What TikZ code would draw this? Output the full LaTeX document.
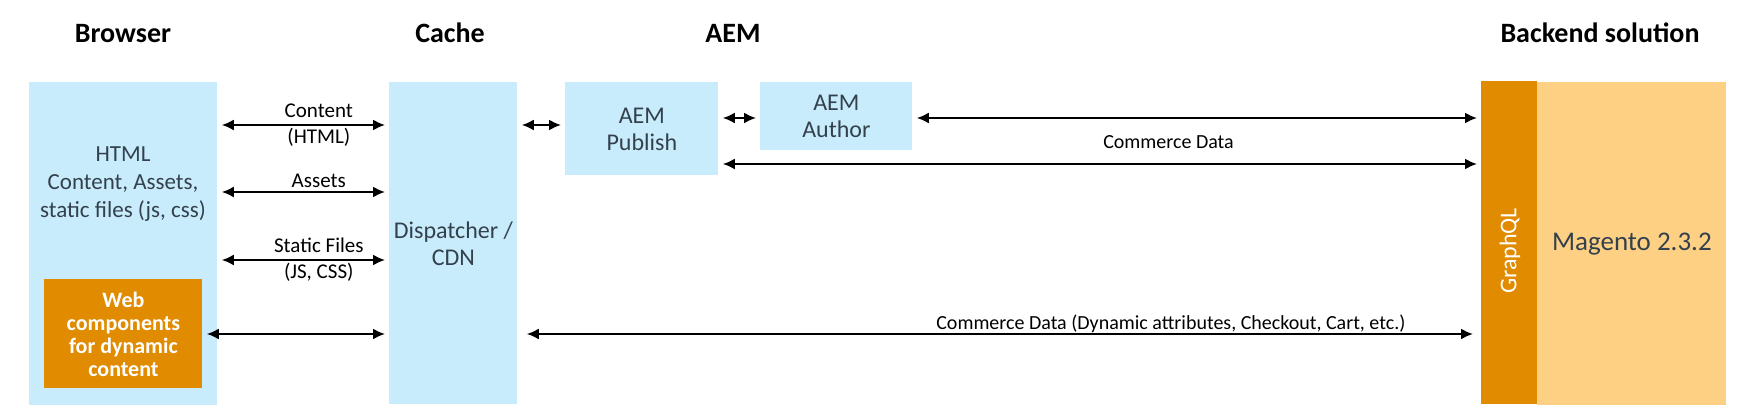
\documentclass[tikz,border=0pt]{standalone}
\usepackage{fontspec}
\setmainfont{Carlito}
\usetikzlibrary{positioning,arrows.meta}

\definecolor{azulclaro}{HTML}{C8ECFB}
\definecolor{laranja}{HTML}{E08B00}
\definecolor{laranjaclaro}{HTML}{FDD084}
\definecolor{textocaixa}{HTML}{33414D}

\tikzset{
  caixa/.style={rectangle, fill=azulclaro, inner sep=0pt, anchor=north west, text=textocaixa, align=center, font=\fontsize{12}{13.5}\selectfont},
  titulo/.style={anchor=base, font=\fontsize{14}{16}\selectfont\bfseries},
  rotulo/.style={align=center, font=\fontsize{10.5}{13}\selectfont},
  rotulodados/.style={anchor=base, font=\fontsize{10}{12}\selectfont},
  seta/.style={draw, {Latex[length=6pt,width=5.5pt]}-{Latex[length=6pt,width=5.5pt]}, line width=1pt, shorten >=2pt, shorten <=2pt}
}

\begin{document}
\begin{tikzpicture}[x=0.5pt, y=-0.5pt]

\useasboundingbox (0,0) rectangle (1753,416);

% Titulos das colunas
\node (tbrowser) [titulo] at (123,43) {Browser};
\node (tcache) [titulo] at (450,43) {Cache};
\node (taem) [titulo] at (733,43) {AEM};
\node (tbackend) [titulo] at (1600,43) {Backend solution};

% Caixa do browser
\node (browser) [caixa, minimum width=94pt, minimum height=161.5pt] at (29,82) {};
\node (browsertxt) [text=textocaixa, align=center, font=\fontsize{11.5}{14}\selectfont] at (123,184) {HTML\\Content, Assets,\\static files (js, css)};
\node (web) [caixa, fill=laranja, text=white, minimum width=79pt, minimum height=54.5pt, font=\fontsize{11}{11.5}\selectfont\bfseries] at (44,279) {Web\\components\\for dynamic\\content};

% Caixa do cache
\node (cache) [caixa, minimum width=64pt, minimum height=161pt] at (389,82) {Dispatcher /\\CDN};

% Caixas do AEM
\node (publish) [caixa, minimum width=76.5pt, minimum height=46.5pt] at (565,82) {AEM\\Publish};
\node (author) [caixa, minimum width=76pt, minimum height=34pt] at (760,82) {AEM\\Author};

% Backend
\node (graphql) [caixa, fill=laranja, minimum width=28pt, minimum height=161.5pt] at (1481,81) {};
\node (graphqltxt) [rotate=90, text=white, font=\fontsize{12}{14}\selectfont] at (1510,251) {GraphQL};
\node (magento) [caixa, fill=laranjaclaro, minimum width=94.5pt, minimum height=161.5pt, font=\fontsize{13.5}{16}\selectfont] at (1537,82) {Magento 2.3.2};

% Setas browser - cache
\path[seta] (browser.east |- 0,125) -- node[rotulo, pos=0.59] {Content\\(HTML)} (cache.west |- 0,125);
\path[seta] (browser.east |- 0,192) -- node[rotulo, anchor=base, pos=0.59, yshift=2pt] {Assets} (cache.west |- 0,192);
\path[seta] (browser.east |- 0,260) -- node[rotulo, pos=0.59] {Static Files\\(JS, CSS)} (cache.west |- 0,260);
\path[seta] (web.east |- 0,334) -- (cache.west |- 0,334);

% Setas cache - AEM
\path[seta] (cache.east |- 0,125) -- (publish.west |- 0,125);
\path[seta] (publish.east |- 0,118) -- (author.west |- 0,118);

% Setas para o GraphQL
\path[seta] (author.east |- 0,118) -- (graphql.west |- 0,118);
\path[seta] (publish.east |- 0,164) -- node[rotulodados, pos=0.59, yshift=7.5pt] {Commerce Data} (graphql.west |- 0,164);
\path[seta, shorten >=4pt, shorten <=4.5pt] (cache.east |- 0,334) -- node[rotulodados, pos=0.678, yshift=2pt] {Commerce Data (Dynamic attributes, Checkout, Cart, etc.)} (graphql.west |- 0,334);

\end{tikzpicture}
\end{document}
